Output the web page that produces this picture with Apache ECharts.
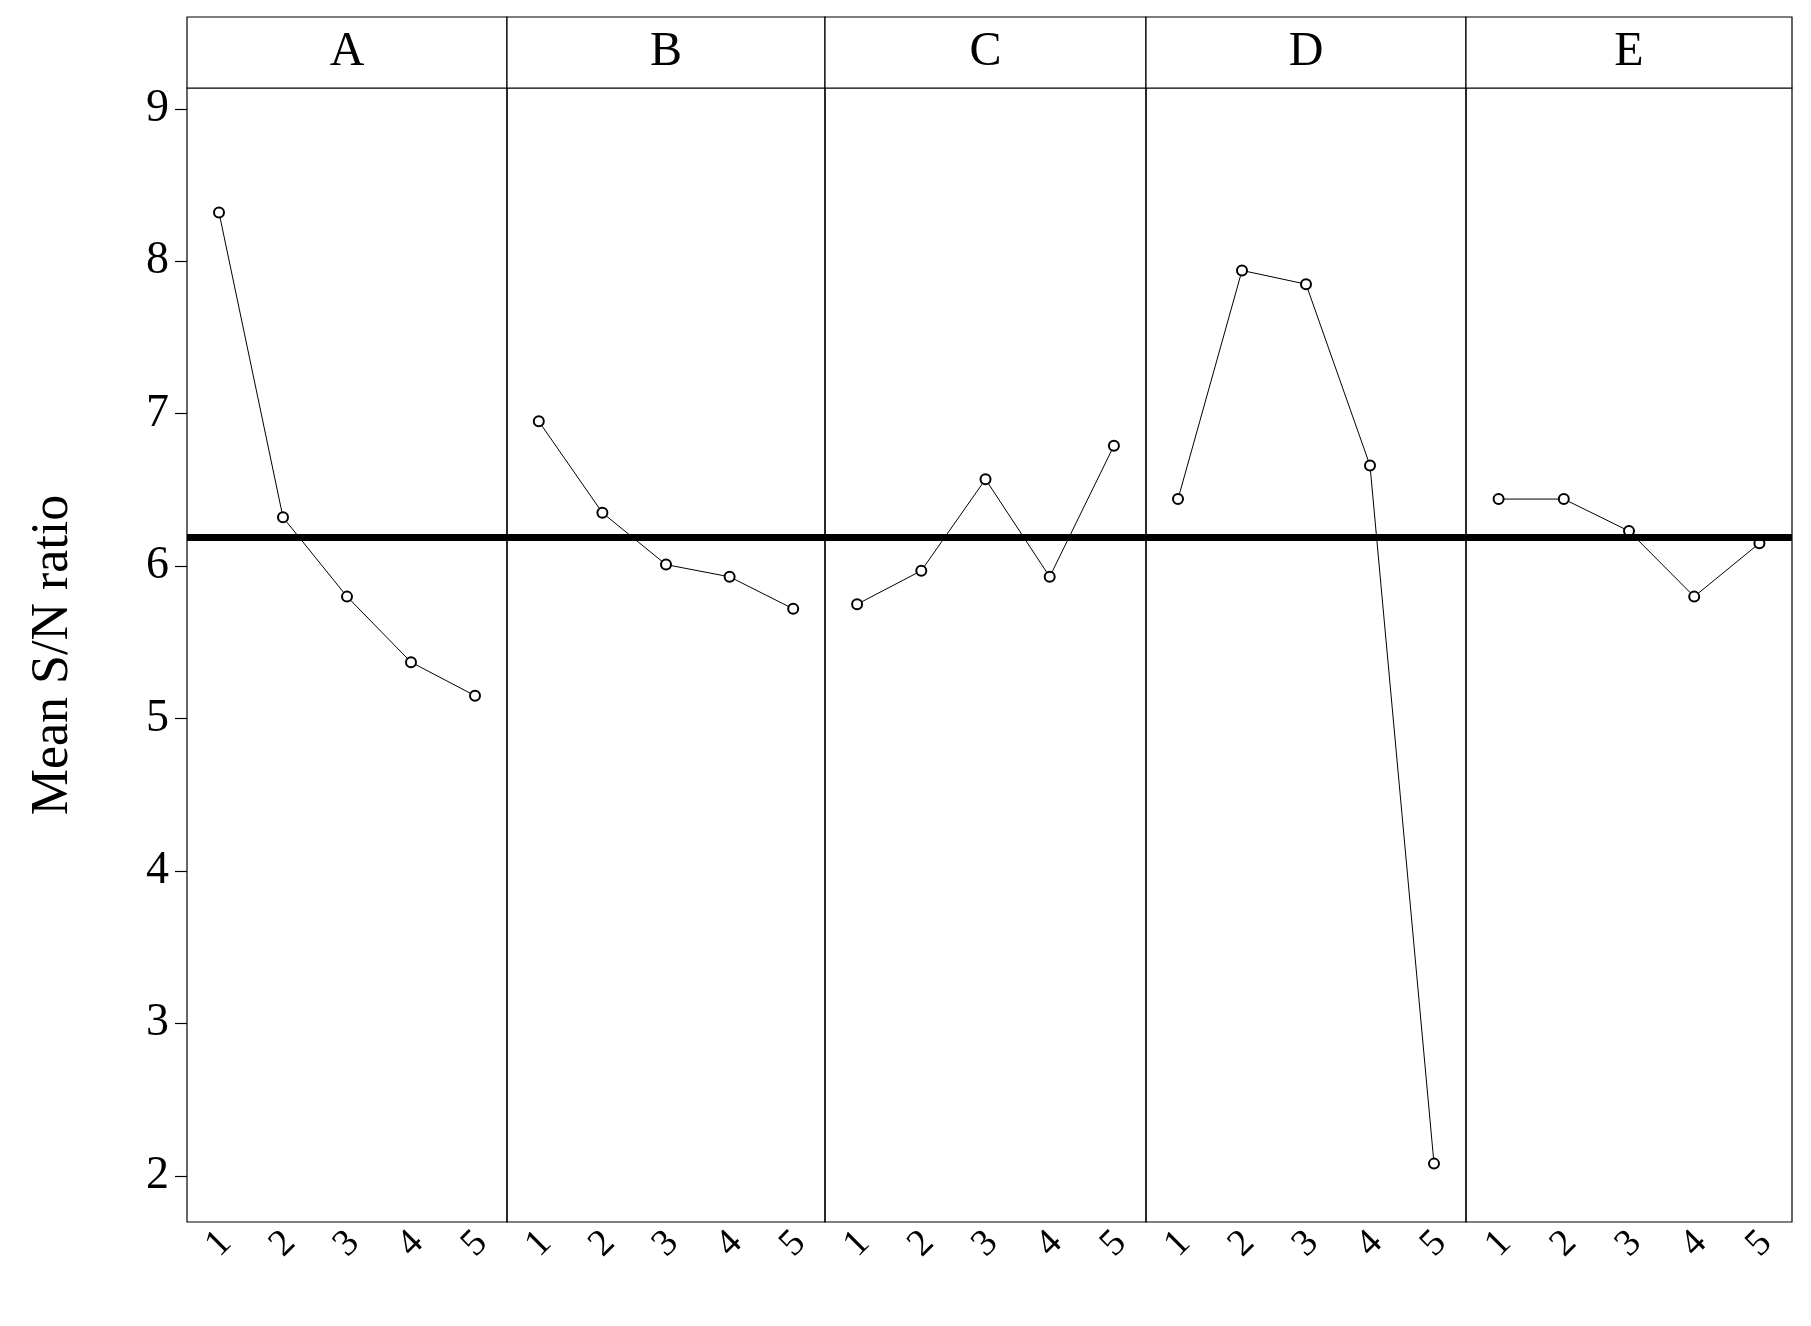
<!DOCTYPE html>
<html><head><meta charset="utf-8">
<script src="https://cdn.jsdelivr.net/npm/echarts@6/dist/echarts.min.js"></script>
<style>html,body{margin:0;padding:0;background:#fff}#c{width:1811px;height:1326px}</style>
</head><body><div id="c"></div>
<script>
const panels = ['A', 'B', 'C', 'D', 'E'];
const levels = ['1', '2', '3', '4', '5'];
const valuesA = [8.32, 6.32, 5.80, 5.37, 5.15];
const valuesB = [6.95, 6.35, 6.01, 5.93, 5.72];
const valuesC = [5.75, 5.97, 6.57, 5.93, 6.79];
const valuesD = [6.44, 7.94, 7.85, 6.66, 2.08];
const valuesE = [6.44, 6.44, 6.23, 5.80, 6.15];
const meanSN = 6.19;
const yTicks = [2, 3, 4, 5, 6, 7, 8, 9];

const allValues = [valuesA, valuesB, valuesC, valuesD, valuesE];
const chart = echarts.init(document.getElementById('c'));
const edges = [187, 507, 825, 1146, 1466, 1792];
const plotTop = 88, plotBottom = 1222, headTop = 17;
const font = 'Liberation Serif';

const grids = [], xAxes = [], yAxes = [], series = [], graphics = [];
panels.forEach((p, i) => {
  grids.push({ left: edges[i], width: edges[i + 1] - edges[i], top: plotTop, height: plotBottom - plotTop,
    show: true, borderColor: '#000', borderWidth: 1.2, backgroundColor: 'transparent' });
  xAxes.push({ type: 'category', gridIndex: i, data: levels, boundaryGap: true,
    axisLine: { show: false },
    axisTick: { alignWithLabel: true, length: 14, lineStyle: { color: '#000', width: 1.2 } },
    axisLabel: { rotate: 45, fontFamily: font, fontSize: 38, color: '#000', margin: 22,
      align: 'center', verticalAlign: 'middle' } });
  yAxes.push({ type: 'value', gridIndex: i, min: 1.697, max: 9.137,
    show: i === 0, splitLine: { show: false },
    axisLine: { show: false },
    axisTick: { show: true, length: 12, lineStyle: { color: '#000', width: 1.2 },
      customValues: yTicks },
    axisLabel: { fontFamily: font, fontSize: 46, color: '#000', margin: 18, customValues: yTicks },
    name: i === 0 ? 'Mean S/N ratio' : '', nameLocation: 'middle', nameGap: 108,
    nameTextStyle: { fontFamily: font, fontSize: 52, color: '#000' } });
  series.push({ type: 'line', xAxisIndex: i, yAxisIndex: i, data: allValues[i],
    symbol: 'emptyCircle', symbolSize: 10, showSymbol: true,
    lineStyle: { color: '#000', width: 1 }, itemStyle: { color: '#000', borderWidth: 1 },
    markLine: { silent: true, symbol: 'none', label: { show: false },
      lineStyle: { color: '#000', width: 7, type: 'solid' }, data: [{ yAxis: meanSN }] } });
  graphics.push({ type: 'rect', shape: { x: edges[i], y: headTop, width: edges[i + 1] - edges[i], height: plotTop - headTop },
    style: { fill: '#fff', stroke: '#000', lineWidth: 1.2 } });
  graphics.push({ type: 'text', x: (edges[i] + edges[i + 1]) / 2, y: (headTop + plotTop) / 2,
    style: { text: p, font: '48px "Liberation Serif"', fill: '#000', align: 'center', verticalAlign: 'middle' } });
});

chart.setOption({
  animation: false,
  grid: grids, xAxis: xAxes, yAxis: yAxes, series: series, graphic: graphics
});
</script></body></html>
